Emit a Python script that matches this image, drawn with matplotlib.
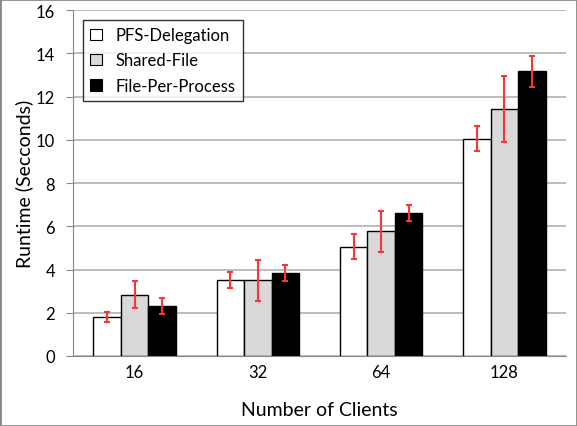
import matplotlib
matplotlib.use("Agg")
import matplotlib.pyplot as plt
import numpy as np
from matplotlib.patches import Rectangle

categories = ["16", "32", "64", "128"]
series_names = ["PFS-Delegation", "Shared-File", "File-Per-Process"]
pfs_delegation = [1.80, 3.50, 5.05, 10.06]
shared_file = [2.84, 3.50, 5.76, 11.44]
file_per_process = [2.30, 3.82, 6.63, 13.17]
pfs_err = [0.22, 0.37, 0.58, 0.58]
shared_err = [0.61, 0.94, 0.96, 1.52]
fpp_err = [0.37, 0.37, 0.37, 0.72]

values = [pfs_delegation, shared_file, file_per_process]
errors = [pfs_err, shared_err, fpp_err]
faces = ["white", "#d9d9d9", "black"]

plt.rcParams['font.family'] = ['Lato', 'DejaVu Sans']

fig = plt.figure(figsize=(5.77, 4.27), dpi=100)
ax = fig.add_axes([0.1265, 0.164, 0.8545, 0.81])

x = np.arange(len(categories))
w = 0.223
for i, (vals, errs, fc) in enumerate(zip(values, errors, faces)):
    pos = x + (i - 1) * w
    ax.bar(pos, vals, width=w, color=fc, edgecolor="black", linewidth=1.0,
           label=series_names[i], zorder=2)
    ax.errorbar(pos, vals, yerr=errs, fmt="none", ecolor="#ff3333",
                elinewidth=1.5, capsize=2.5, capthick=1.5, zorder=3)

ax.set_xlim(-0.5, len(categories) - 0.5)
ax.set_ylim(0, 16)
ax.set_yticks(range(0, 17, 2))
ax.set_xticks(x)
ax.set_xticklabels(categories)
ax.yaxis.grid(True, color="#b8b8b8", linewidth=1.3, zorder=0)
ax.set_axisbelow(True)
for s in ["top", "right"]:
    ax.spines[s].set_visible(False)
ax.spines["left"].set_color("#888888")
ax.spines["bottom"].set_color("#888888")
ax.tick_params(axis="y", length=5, color="#888888", labelsize=12, pad=8)
ax.tick_params(axis="x", length=0, labelsize=12, pad=6)
ax.set_ylabel("Runtime (Secconds)", fontsize=14)
ax.set_xlabel("Number of Clients", fontsize=14)
ax.yaxis.set_label_coords(-0.081, 0.5)
ax.xaxis.set_label_coords(0.5, -0.13)

leg = ax.legend(loc="upper left", bbox_to_anchor=(0.02, 0.972), frameon=True,
                fancybox=False, edgecolor="black", fontsize=12,
                handlelength=0.7, handleheight=0.7, handletextpad=0.8,
                borderpad=0.45, labelspacing=0.55, borderaxespad=0)
leg.get_frame().set_linewidth(1.0)
for h in leg.legend_handles:
    h.set_linewidth(0.8)

fig.patches.append(Rectangle((0, 0), 1, 1, transform=fig.transFigure,
                             fill=False, edgecolor="#888888", linewidth=2))
fig.savefig("out.png", dpi=100)
